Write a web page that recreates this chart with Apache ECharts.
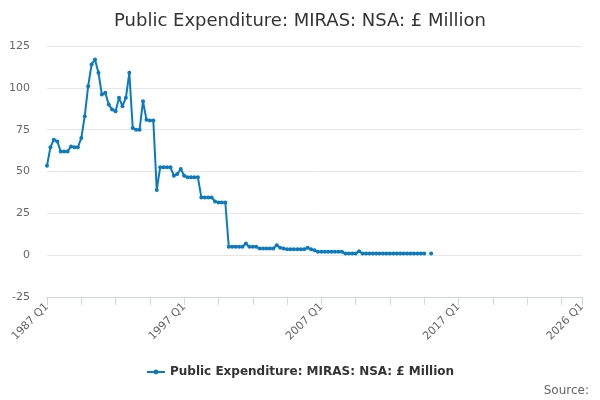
<!DOCTYPE html>
<html>
<head>
<meta charset="utf-8">
<script src="https://cdn.jsdelivr.net/npm/echarts@6/dist/echarts.min.js"></script>
<style>
  html, body { margin: 0; padding: 0; background: #fff; }
  #chart { width: 600px; height: 400px; }
</style>
</head>
<body>
<div id="chart"></div>
<script>
// quarters 1987 Q1 .. 2026 Q1
var firstYear = 1987;
var lastYear = 2026;
var quarters = [];
for (var y = firstYear; y <= lastYear; y++) {
  for (var q = 1; q <= 4; q++) {
    if (y === lastYear && q > 1) break;
    quarters.push(y + ' Q' + q);
  }
}

var seriesName = 'Public Expenditure: MIRAS: NSA: £ Million';

// values, 1987 Q1 onwards
var miras = [
  53.5, 64.5, 69, 68, 62, 62, 62, 65, 64.5, 64.5,
  70, 83, 101, 114, 117, 109, 96, 97, 90, 87,
  86, 94, 89, 94, 109, 76, 75, 75, 92, 81,
  80.5, 80.5, 39, 52.5, 52.5, 52.5, 52.5, 47.5, 48.5, 51.5,
  47.5, 46.5, 46.5, 46.5, 46.5, 34.5, 34.5, 34.5, 34.5, 32,
  31.5, 31.5, 31.5, 5, 5, 5, 5, 5, 7, 5,
  5, 5, 4, 4, 4, 4, 4, 6, 4.5, 4,
  3.5, 3.5, 3.5, 3.5, 3.5, 3.5, 4.5, 3.5, 3, 2,
  2, 2, 2, 2, 2, 2, 2, 1, 1, 1,
  1, 2.3, 1, 1, 1, 1, 1, 1, 1, 1,
  1, 1, 1, 1, 1, 1, 1, 1, 1, 1,
  1, null, 1
];
while (miras.length < quarters.length) miras.push(null);

var yTicks = { min: -25, max: 125, step: 25 };

var chart = echarts.init(document.getElementById('chart'));
chart.setOption({
  animation: false,
  textStyle: { fontFamily: 'DejaVu Sans' },
  title: {
    text: 'Public Expenditure: MIRAS: NSA: £ Million',
    left: 'center',
    top: 7,
    textStyle: { fontSize: 18, fontWeight: 'normal', color: '#333' }
  },
  legend: {
    bottom: 17,
    left: 'center',
    itemWidth: 18,
    itemHeight: 6,
    textStyle: { fontSize: 12, fontWeight: 'bold', color: '#333' },
    data: [seriesName]
  },
  graphic: [{
    type: 'text',
    right: 11,
    bottom: 3,
    style: { text: 'Source:', fontSize: 12, fill: '#666', fontFamily: 'DejaVu Sans' }
  }],
  grid: {
    left: 47,
    right: 18,
    top: 46,
    bottom: 103,
    outerBoundsMode: 'none'
  },
  xAxis: {
    type: 'category',
    data: quarters,
    boundaryGap: false,
    axisLine: { onZero: false, lineStyle: { color: '#ccd6eb' } },
    axisTick: {
      length: 8,
      lineStyle: { color: '#ccd6eb' },
      interval: function (i) { return i % 10 === 0 || i === quarters.length - 1; }
    },
    axisLabel: {
      rotate: 45,
      fontSize: 11,
      color: '#666',
      margin: 8,
      interval: function (i) { return i % 40 === 0 || i === quarters.length - 1; }
    },
    splitLine: { show: false }
  },
  yAxis: {
    type: 'value',
    min: yTicks.min,
    max: yTicks.max,
    interval: yTicks.step,
    axisLine: { show: false },
    axisTick: { show: false },
    axisLabel: { fontSize: 11, color: '#666', margin: 17 },
    splitLine: { lineStyle: { color: '#e6e6e6' } }
  },
  series: [{
    name: seriesName,
    type: 'line',
    data: miras,
    connectNulls: false,
    symbol: 'circle',
    symbolSize: 4,
    showAllSymbol: true,
    color: '#0b7bc1',
    lineStyle: { width: 2, color: '#0b7bc1' },
    itemStyle: { color: '#0b7bc1' }
  }]
});
</script>
</body>
</html>
